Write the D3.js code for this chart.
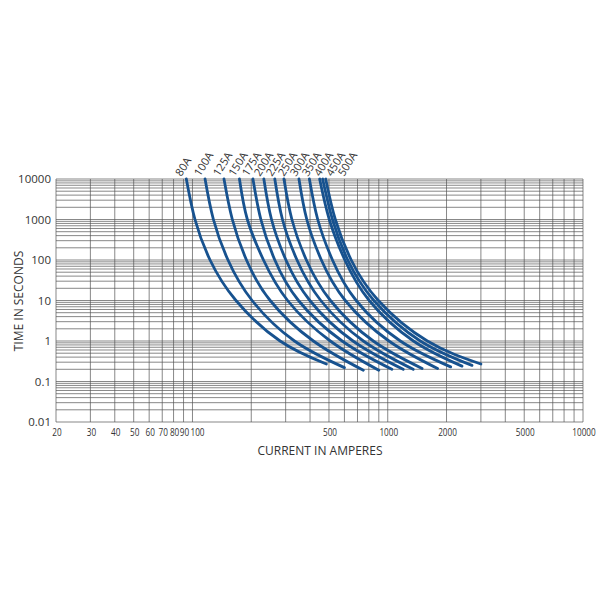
<!DOCTYPE html>
<html>
<head>
<meta charset="utf-8">
<script src="https://cdn.jsdelivr.net/npm/d3@7"></script>
<style>
  body { margin: 0; background: #fff; }
  text { font-family: "Open Sans", sans-serif; fill: #333; }
</style>
</head>
<body>
<div id="chart"></div>
<script>
// fuse ratings, one curve each
const ratings = ["80A","100A","125A","150A","175A","200A","225A","250A","300A","350A","400A","450A","500A"];
const readTimes = [10000, 1000, 100, 10, 1];
// current (A) at each read time, last value is the end of the curve
const currents80  = [93, 103, 123, 167, 281, 485];
const currents100 = [116, 128, 152, 202, 333, 600];
const currents125 = [145, 160, 189, 250, 416, 750];
const currents150 = [174, 191, 231, 307, 508, 900];
const currents175 = [204, 224, 264, 349, 584, 1050];
const currents200 = [232, 254, 301, 399, 664, 1200];
const currents225 = [264, 289, 343, 454, 750, 1350];
const currents250 = [294, 323, 383, 509, 843, 1500];
const currents300 = [351, 385, 457, 606, 1014, 1800];
const currents350 = [397, 438, 521, 689, 1160, 2100];
const currents400 = [448, 502, 603, 804, 1354, 2400];
const currents450 = [464, 521, 624, 849, 1469, 2700];
const currents500 = [481, 539, 650, 895, 1595, 3000];
// time (s) at the end of each curve
const endTimes = [0.27, 0.22, 0.19, 0.19, 0.2, 0.2, 0.2, 0.21, 0.21, 0.23, 0.24, 0.25, 0.27];

const xTicks = [20,30,40,50,60,70,80,90,100,500,1000,2000,5000,10000];
const yTicks = [0.01,0.1,1,10,100,1000,10000];

const allCurrents = [currents80,currents100,currents125,currents150,currents175,currents200,
  currents225,currents250,currents300,currents350,currents400,currents450,currents500];

const curves = ratings.map((r, i) => {
  const pts = readTimes.map((t, k) => [allCurrents[i][k], t]);
  pts.push([allCurrents[i][5], endTimes[i]]);
  return {name: r, pts: pts};
});

const width = 600, height = 600;
const svg = d3.select("#chart").append("svg")
  .attr("width", width).attr("height", height);

const x = d3.scaleLog().domain([20, 10000]).range([56, 583]);
const y = d3.scaleLog().domain([0.01, 10000]).range([422, 179]);

// log grid lines
let vLines = [];
[10, 100, 1000].forEach(dec => { for (let k = 1; k <= 9; k++) if (dec * k >= 20) vLines.push(dec * k); });
vLines.push(10000);
let hLines = [];
[0.01, 0.1, 1, 10, 100, 1000].forEach(dec => { for (let k = 1; k <= 9; k++) hLines.push(dec * k); });
hLines.push(10000);

const grid = svg.append("g").attr("stroke", "#555").attr("stroke-width", 0.7);
grid.selectAll(".v").data(vLines).enter().append("line")
  .attr("x1", d => x(d)).attr("x2", d => x(d))
  .attr("y1", y(10000)).attr("y2", y(0.01));
grid.selectAll(".h").data(hLines).enter().append("line")
  .attr("x1", x(20)).attr("x2", x(10000))
  .attr("y1", d => y(d)).attr("y2", d => y(d));

// curves
const line = d3.line()
  .x(d => x(d[0])).y(d => y(d[1]))
  .curve(d3.curveNatural);

svg.append("g").selectAll("path").data(curves).enter().append("path")
  .attr("d", d => line(d.pts))
  .attr("fill", "none")
  .attr("stroke", "#17528f")
  .attr("stroke-width", 2.8)
  .attr("stroke-linecap", "round");

// curve labels, spread so they don't collide
let lastX = -100;
curves.forEach(c => {
  let lx = Math.max(x(c.pts[0][0]) - 5, lastX + 12);
  lastX = lx;
  svg.append("text")
    .attr("transform", `translate(${lx},177) rotate(-58)`)
    .style("font-size", "11px")
    .text(c.name);
});

// y tick labels
svg.append("g").selectAll("text").data(yTicks).enter().append("text")
  .attr("x", 51).attr("y", d => y(d))
  .attr("dy", "0.35em")
  .attr("text-anchor", "end")
  .style("font-size", "11.5px")
  .text(d => d);

// x tick labels (narrow)
svg.append("g").selectAll("text").data(xTicks).enter().append("text")
  .attr("transform", d => `translate(${x(d) + (d === 100 ? 5 : 1)},436) scale(0.78,1)`)
  .attr("text-anchor", "middle")
  .style("font-size", "10.5px")
  .text(d => d);

// axis titles
svg.append("text")
  .attr("x", 320).attr("y", 455)
  .attr("text-anchor", "middle")
  .style("font-size", "12px")
  .text("CURRENT IN AMPERES");

svg.append("text")
  .attr("transform", "translate(23,301) rotate(-90)")
  .attr("text-anchor", "middle")
  .style("font-size", "12px")
  .text("TIME IN SECONDS");
</script>
</body>
</html>
